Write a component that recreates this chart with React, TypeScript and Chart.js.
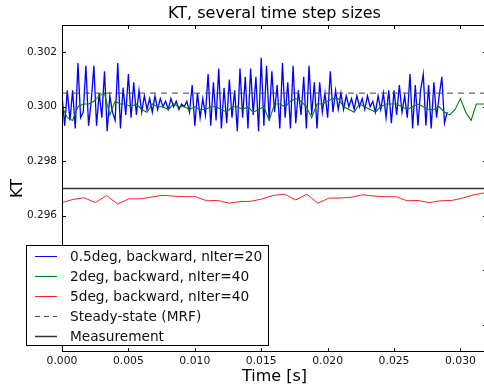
import { useEffect, useRef } from "react";
import { Chart, registerables } from "chart.js";

Chart.register(...registerables);

const TITLE = "KT, several time step sizes";
const X_LABEL = "Time [s]";
const Y_LABEL = "KT";
const X_TICKS = [0, 0.005, 0.01, 0.015, 0.02, 0.025, 0.03];
const Y_TICKS = [0.292, 0.294, 0.296, 0.298, 0.3, 0.302];
const X_MIN = 0;
const X_MAX = 0.032;
const Y_MIN = 0.291;
const Y_MAX = 0.303;

const LEGEND_LABELS = [
  "0.5deg, backward, nIter=20",
  "2deg, backward, nIter=40",
  "5deg, backward, nIter=40",
  "Steady-state (MRF)",
  "Measurement",
];

// 0.5deg time step series
const BLUE_DT = 0.0002;
const BLUE_KT = [
  0.3004, 0.2993, 0.3006, 0.2995, 0.3006, 0.2992, 0.3016, 0.2996, 0.2998, 0.3015,
  0.2993, 0.3002, 0.3015, 0.2993, 0.3005, 0.2996, 0.3013, 0.2991, 0.3004, 0.2998,
  0.2995, 0.3016, 0.2992, 0.3007, 0.2997, 0.3012, 0.2996, 0.3009, 0.2997, 0.3006,
  0.2998, 0.3004, 0.2999, 0.3003, 0.2998, 0.3004, 0.2999, 0.3003, 0.3, 0.3002,
  0.2999, 0.3003, 0.3, 0.3002, 0.2999, 0.3001, 0.3, 0.3002, 0.2998, 0.3008,
  0.2993, 0.3005, 0.2996, 0.3003, 0.2997, 0.3012, 0.2993, 0.3009, 0.2995, 0.3014,
  0.2992, 0.3007, 0.2994, 0.301, 0.2996, 0.3006, 0.2991, 0.3014, 0.2996, 0.3011,
  0.2992, 0.3014, 0.2997, 0.3011, 0.2991, 0.3018, 0.2993, 0.3015, 0.2995, 0.3013,
  0.2998, 0.3008, 0.2992, 0.3016, 0.2996, 0.3009, 0.2992, 0.3015, 0.2994, 0.3006,
  0.2997, 0.3011, 0.2992, 0.3015, 0.2997, 0.3009, 0.2992, 0.3009, 0.2998, 0.3005,
  0.2996, 0.3013, 0.2998, 0.3006, 0.2999, 0.3005, 0.2999, 0.3004, 0.3, 0.3003,
  0.2999, 0.3004, 0.3, 0.3003, 0.2999, 0.3004, 0.3, 0.3002, 0.2998, 0.3004,
  0.2999, 0.3005, 0.2996, 0.3006, 0.2994, 0.3006, 0.2997, 0.3008, 0.2998, 0.3004,
  0.2996, 0.3012, 0.2992, 0.3008, 0.2993, 0.3006, 0.3012, 0.2993, 0.3008, 0.2992,
  0.3009, 0.2996, 0.3004, 0.3011, 0.2994, 0.2998,
];

// 2deg time step series
const GREEN_DT = 0.0004;
const GREEN_KT = [
  0.3, 0.2996, 0.2995, 0.3, 0.3001, 0.3001, 0.3002, 0.3004, 0.3005, 0.2997,
  0.3002, 0.3001, 0.3001, 0.3, 0.3001, 0.2999, 0.2998, 0.3001, 0.3, 0.3,
  0.2999, 0.3001, 0.3, 0.3, 0.2999, 0.3, 0.2999, 0.2999, 0.3, 0.3,
  0.2999, 0.2998, 0.3, 0.3, 0.2999, 0.3, 0.2998, 0.2999, 0.3, 0.2995,
  0.3001, 0.3001, 0.3, 0.3002, 0.3003, 0.3002, 0.3, 0.2996, 0.3001, 0.3001,
  0.3002, 0.3003, 0.3003, 0.3, 0.2999, 0.2998, 0.3001, 0.3, 0.2999, 0.2998,
  0.3, 0.3001, 0.3001, 0.3001, 0.3, 0.2999, 0.3, 0.3001, 0.3, 0.2999,
  0.2999, 0.3, 0.2998, 0.2997, 0.2999, 0.3003, 0.2998, 0.2995, 0.3001, 0.3001,
  0.3001,
];

// 5deg time step series
const RED_DT = 0.000838;
const RED_KT = [
  0.29648, 0.2966, 0.29666, 0.29648, 0.29674, 0.29643, 0.29662, 0.29662, 0.29668, 0.29675,
  0.29672, 0.2967, 0.2967, 0.29655, 0.29656, 0.29646, 0.29652, 0.29653, 0.29662, 0.29675,
  0.29679, 0.29658, 0.29679, 0.29646, 0.29665, 0.29665, 0.29668, 0.29677, 0.29672, 0.2967,
  0.2967, 0.29655, 0.29656, 0.29648, 0.29655, 0.29656, 0.29665, 0.29677, 0.29684, 0.2968,
];

const STEADY_KT = 0.3005;
const MEASURED_KT = 0.297;

const COLORS = ["#0000ff", "#008000", "#ff2020", "#444444", "#333333"];
const FONT = '"DejaVu Sans", sans-serif';

const toPoints = (dt: number, vals: number[]) => vals.map((v, i) => ({ x: i * dt, y: v }));

const decorPlugin = {
  id: "decor",
  afterDraw(chart: any) {
    const { ctx, chartArea: a, scales } = chart;
    const x = scales.x;
    const y = scales.y;
    ctx.save();
    ctx.strokeStyle = "#000";
    ctx.lineWidth = 1;
    // inward ticks on all four sides
    ctx.beginPath();
    for (const v of X_TICKS) {
      const px = Math.round(x.getPixelForValue(v)) + 0.5;
      ctx.moveTo(px, a.bottom);
      ctx.lineTo(px, a.bottom - 4);
      ctx.moveTo(px, a.top);
      ctx.lineTo(px, a.top + 4);
    }
    for (const v of Y_TICKS) {
      const py = Math.round(y.getPixelForValue(v)) + 0.5;
      ctx.moveTo(a.left, py);
      ctx.lineTo(a.left + 4, py);
      ctx.moveTo(a.right, py);
      ctx.lineTo(a.right - 4, py);
    }
    ctx.stroke();
    // frame
    ctx.strokeRect(Math.round(a.left) + 0.5, Math.round(a.top) + 0.5, Math.round(a.width) - 1, Math.round(a.height) - 1);
    // title
    ctx.fillStyle = "#000";
    ctx.font = `16px ${FONT}`;
    ctx.textAlign = "center";
    ctx.textBaseline = "middle";
    ctx.fillText(TITLE, (a.left + a.right) / 2, 14);
    // legend
    const lx = 26.5, ly = 245.5, lw = 242, lh = 100;
    ctx.fillStyle = "#fff";
    ctx.fillRect(lx, ly, lw, lh);
    ctx.strokeStyle = "#000";
    ctx.strokeRect(lx, ly, lw, lh);
    ctx.font = `13.7px ${FONT}`;
    ctx.textAlign = "left";
    LEGEND_LABELS.forEach((label, i) => {
      const ry = 256 + i * 20;
      ctx.beginPath();
      ctx.strokeStyle = COLORS[i];
      ctx.lineWidth = i === 4 ? 1.5 : 1;
      ctx.setLineDash(i === 3 ? [5, 4] : []);
      ctx.moveTo(35, ry + 0.5);
      ctx.lineTo(57, ry + 0.5);
      ctx.stroke();
      ctx.setLineDash([]);
      ctx.fillStyle = "#111";
      ctx.fillText(label, 70, ry + 1);
    });
    ctx.restore();
  },
};

export default function App() {
  const ref = useRef<HTMLCanvasElement | null>(null);

  useEffect(() => {
    if (!ref.current) return;
    Chart.defaults.font.family = FONT;
    const chart = new Chart(ref.current, {
      type: "line",
      data: {
        datasets: [
          {
            label: LEGEND_LABELS[0],
            data: toPoints(BLUE_DT, BLUE_KT),
            borderColor: COLORS[0],
            borderWidth: 1.3,
            pointRadius: 0,
            order: 5,
          },
          {
            label: LEGEND_LABELS[1],
            data: toPoints(GREEN_DT, GREEN_KT),
            borderColor: COLORS[1],
            borderWidth: 1.1,
            pointRadius: 0,
            order: 4,
          },
          {
            label: LEGEND_LABELS[2],
            data: toPoints(RED_DT, RED_KT),
            borderColor: COLORS[2],
            borderWidth: 1,
            pointRadius: 0,
            order: 3,
          },
          {
            label: LEGEND_LABELS[3],
            data: [
              { x: X_MIN, y: STEADY_KT },
              { x: X_MAX, y: STEADY_KT },
            ],
            borderColor: COLORS[3],
            borderWidth: 1,
            borderDash: [6, 5],
            pointRadius: 0,
            order: 2,
          },
          {
            label: LEGEND_LABELS[4],
            data: [
              { x: X_MIN, y: MEASURED_KT },
              { x: X_MAX, y: MEASURED_KT },
            ],
            borderColor: COLORS[4],
            borderWidth: 1.5,
            pointRadius: 0,
            order: 1,
          },
        ],
      },
      options: {
        responsive: false,
        animation: false,
        layout: { padding: { left: 0, right: 13, top: 25, bottom: 0 } },
        plugins: {
          legend: { display: false },
          title: { display: false },
          tooltip: { enabled: false },
        },
        scales: {
          x: {
            type: "linear",
            min: X_MIN,
            max: X_MAX,
            grid: { display: false, drawTicks: false },
            border: { display: false },
            afterBuildTicks: (s: any) => {
              s.ticks = X_TICKS.map((v) => ({ value: v }));
            },
            afterFit: (s: any) => {
              s.height = 36;
            },
            ticks: {
              autoSkip: false,
              maxRotation: 0,
              padding: 3,
              color: "#111",
              font: { size: 10.8, family: FONT },
              callback: (v: any) => Number(v).toFixed(3),
            },
            title: {
              display: true,
              text: X_LABEL,
              color: "#000",
              font: { size: 16, family: FONT },
              padding: { top: 0, bottom: 2 },
            },
          },
          y: {
            type: "linear",
            min: Y_MIN,
            max: Y_MAX,
            grid: { display: false, drawTicks: false },
            border: { display: false },
            afterBuildTicks: (s: any) => {
              s.ticks = Y_TICKS.map((v) => ({ value: v }));
            },
            afterFit: (s: any) => {
              s.width = 62;
            },
            ticks: {
              autoSkip: false,
              padding: 5,
              color: "#111",
              font: { size: 10.5, family: FONT },
              callback: (v: any) => Number(v).toFixed(3),
            },
            title: {
              display: true,
              text: Y_LABEL,
              color: "#000",
              font: { size: 16, family: FONT },
              padding: { top: 8, bottom: 0 },
            },
          },
        },
      },
      plugins: [decorPlugin],
    });
    return () => chart.destroy();
  }, []);

  return (
    <div style={{ position: "fixed", left: 0, top: 0, width: 500, height: 388, background: "#fff" }}>
      <canvas ref={ref} width={500} height={388} style={{ width: 500, height: 388, display: "block" }} />
    </div>
  );
}
